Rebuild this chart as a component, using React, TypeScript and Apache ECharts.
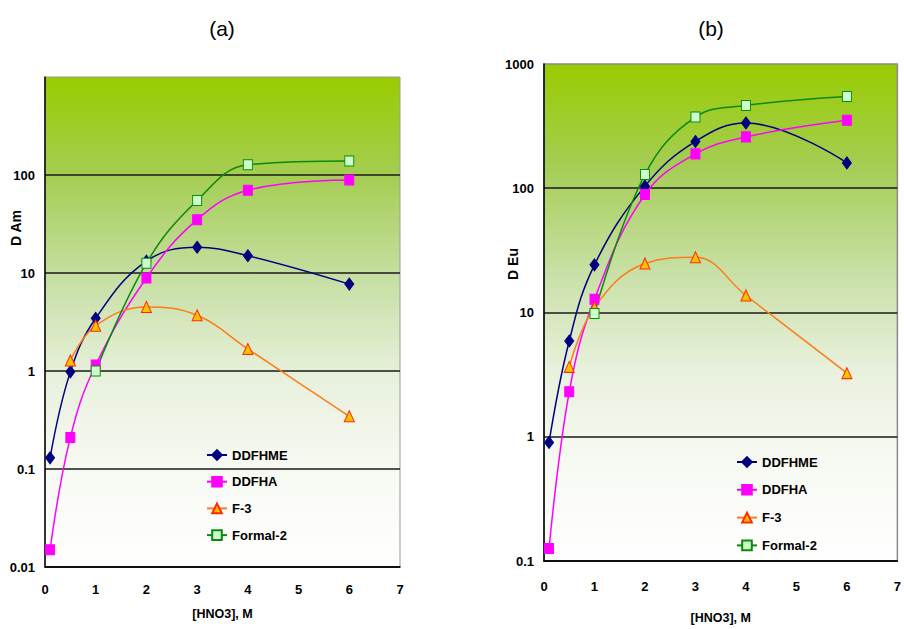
import React, { useEffect, useRef } from "react";
import * as echarts from "echarts";

// [HNO3] concentrations, M
const hno3A = {
  DDFHME: [0.1, 0.5, 1, 2, 3, 4, 6],
  DDFHA: [0.1, 0.5, 1, 2, 3, 4, 6],
  F3: [0.5, 1, 2, 3, 4, 6],
  Formal2: [1, 2, 3, 4, 6],
};

// Distribution ratios of Am, panel (a)
const dAmDDFHME = [0.13, 0.98, 3.45, 13.2, 18.3, 15, 7.7];
const dAmDDFHA = [0.015, 0.21, 1.15, 8.9, 35, 70, 89];
const dAmF3 = [1.28, 2.9, 4.5, 3.7, 1.68, 0.345];
const dAmFormal2 = [1.0, 12.6, 55, 127, 139];

// Distribution ratios of Eu, panel (b)
const dEuDDFHME = [0.9, 5.9, 24.2, 104, 238, 335, 160];
const dEuDDFHA = [0.126, 2.3, 12.8, 89, 189, 259, 352];
const dEuF3 = [3.65, 11, 24.8, 27.8, 13.7, 3.25];
const dEuFormal2 = [9.8, 129, 374, 464, 548];

const seriesNames = ["DDFHME", "DDFHA", "F-3", "Formal-2"];
const xTicks = [0, 1, 2, 3, 4, 5, 6, 7];

const SANS = '"Liberation Sans", Arial, sans-serif';

const zip = (xs: number[], ys: number[]) => xs.map((x, i) => [x, ys[i]]);

const styles = [
  {
    symbol: "diamond",
    symbolSize: [9, 12],
    line: "#000080",
    fill: "#000080",
    border: "#000080",
  },
  {
    symbol: "rect",
    symbolSize: [9, 10],
    line: "#FF00FF",
    fill: "#FF00FF",
    border: "#FF00FF",
  },
  {
    symbol: "triangle",
    symbolSize: [10, 11],
    line: "#FF7A1A",
    fill: "#FFC000",
    border: "#FF2A00",
  },
  {
    symbol: "rect",
    symbolSize: [9, 10],
    line: "#0A8A0A",
    fill: "#CCFFCC",
    border: "#0A8A0A",
  },
];

const bg = () =>
  new echarts.graphic.LinearGradient(0, 0, 0, 1, [
    { offset: 0, color: "#99CC00" },
    { offset: 0.2, color: "#A4CD52" },
    { offset: 0.42, color: "#C8E0A6" },
    { offset: 0.62, color: "#E9F1DE" },
    { offset: 0.82, color: "#F8FAF4" },
    { offset: 1, color: "#FFFFFF" },
  ]);

const fmt = (v: number) => String(Number(v.toPrecision(6)));

function makeSeries(idx: number, data: number[][], axisIndex: number) {
  const s = styles[idx];
  return {
    name: seriesNames[idx],
    type: "line",
    xAxisIndex: axisIndex,
    yAxisIndex: axisIndex,
    data,
    smooth: 0.4,
    symbol: s.symbol,
    symbolSize: s.symbolSize,
    lineStyle: { color: s.line, width: 1.5 },
    itemStyle: { color: s.fill, borderColor: s.border, borderWidth: 1 },
    emphasis: { disabled: true },
  };
}

function xAxis(gridIndex: number, nameGap: number, margin: number) {
  return {
    type: "value",
    gridIndex,
    min: 0,
    max: 7,
    interval: 1,
    name: "[HNO3], M",
    nameLocation: "middle",
    nameGap,
    nameTextStyle: { fontFamily: SANS, fontWeight: "bold", fontSize: 12.5, color: "#000" },
    axisLine: { show: true, lineStyle: { color: "#000", width: 1.5 } },
    axisTick: { show: false },
    splitLine: { show: false },
    axisLabel: {
      margin,
      fontFamily: SANS,
      fontWeight: "bold",
      fontSize: 13,
      color: "#000",
      formatter: (v: number) => (xTicks.includes(v) ? String(v) : ""),
    },
  };
}

function yAxis(gridIndex: number, min: number, hideMax: boolean) {
  return {
    type: "log",
    logBase: 10,
    gridIndex,
    min,
    max: 1000,
    axisLine: { show: true, lineStyle: { color: "#000", width: 1.5 } },
    axisTick: { show: false },
    splitLine: {
      show: true,
      showMaxLine: false,
      lineStyle: { color: "#1a1a1a", width: 1.5 },
    },
    axisLabel: {
      margin: 10,
      fontFamily: SANS,
      fontWeight: "bold",
      fontSize: 13,
      color: "#000",
      formatter: (v: number) => (hideMax && v >= 999 ? "" : fmt(v)),
    },
  };
}

function legend(left: number, top: number, gap: number) {
  return {
    show: true,
    orient: "vertical",
    left,
    top,
    padding: 0,
    itemWidth: 20,
    itemHeight: 12,
    itemGap: gap,
    selectedMode: false,
    textStyle: {
      fontFamily: SANS,
      fontWeight: "bold",
      fontSize: 13,
      color: "#000",
      lineHeight: 16,
    },
    data: seriesNames,
  };
}

export default function App() {
  const ref = useRef<HTMLDivElement>(null);

  useEffect(() => {
    if (!ref.current) return;
    const chart = echarts.init(ref.current, undefined, { renderer: "svg" });

    const seriesA = [
      makeSeries(0, zip(hno3A.DDFHME, dAmDDFHME), 0),
      makeSeries(1, zip(hno3A.DDFHA, dAmDDFHA), 0),
      makeSeries(2, zip(hno3A.F3, dAmF3), 0),
      makeSeries(3, zip(hno3A.Formal2, dAmFormal2), 0),
    ];
    const seriesB = [
      makeSeries(0, zip(hno3A.DDFHME, dEuDDFHME), 1),
      makeSeries(1, zip(hno3A.DDFHA, dEuDDFHA), 1),
      makeSeries(2, zip(hno3A.F3, dEuF3), 1),
      makeSeries(3, zip(hno3A.Formal2, dEuFormal2), 1),
    ];

    chart.setOption({
      animation: false,
      backgroundColor: "#FFFFFF",
      grid: [
        {
          left: 45,
          top: 77,
          width: 355,
          height: 490,
          show: true,
          backgroundColor: bg(),
          borderColor: "#9A9A9A",
          borderWidth: 1,
        },
        {
          left: 544,
          top: 64,
          right: 0,
          bottom: 64,
          show: true,
          backgroundColor: bg(),
          borderColor: "#8A8A8A",
          borderWidth: 1.5,
        },
      ],
      xAxis: [xAxis(0, 40, 16), xAxis(1, 50, 19)],
      yAxis: [yAxis(0, 0.01, true), yAxis(1, 0.1, false)],
      legend: [legend(206, 447, 10.7), legend(736, 454, 11.8)],
      graphic: [
        {
          type: "text",
          x: 222,
          y: 28,
          style: {
            text: "(a)",
            font: `21px ${SANS}`,
            fill: "#000",
            textAlign: "center",
            textVerticalAlign: "middle",
          },
        },
        {
          type: "text",
          x: 711,
          y: 28,
          style: {
            text: "(b)",
            font: `21px ${SANS}`,
            fill: "#000",
            textAlign: "center",
            textVerticalAlign: "middle",
          },
        },
        {
          type: "text",
          x: 16,
          y: 228,
          rotation: Math.PI / 2,
          style: {
            text: "D Am",
            font: `bold 14px ${SANS}`,
            fill: "#000",
            textAlign: "center",
            textVerticalAlign: "middle",
          },
        },
        {
          type: "text",
          x: 513,
          y: 264,
          rotation: Math.PI / 2,
          style: {
            text: "D Eu",
            font: `bold 14px ${SANS}`,
            fill: "#000",
            textAlign: "center",
            textVerticalAlign: "middle",
          },
        },
      ],
      series: [...seriesA, ...seriesB],
    });

    return () => chart.dispose();
  }, []);

  return (
    <div
      ref={ref}
      style={{ position: "absolute", left: 0, top: 0, width: 904, height: 629 }}
    />
  );
}
